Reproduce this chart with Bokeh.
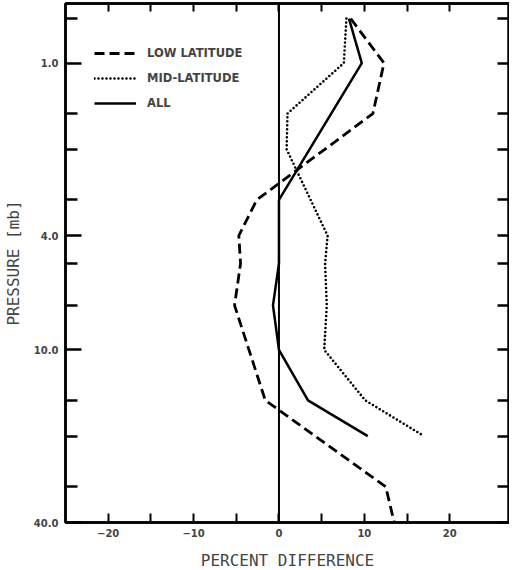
from bokeh.plotting import figure
from bokeh.models import (Range1d, LinearAxis, LogAxis, FixedTicker, Span, Legend,
                          LegendItem, CustomJSTickFormatter)
from bokeh.embed import file_html
from bokeh.resources import INLINE

# ---- data (pressure levels in mb, percent difference) ----
low_p = [0.7, 1.0, 1.5, 3.0, 4.0, 5.0, 7.0, 15.0, 30.0, 40.0]
low_x = [8.4, 12.3, 11.0, -2.6, -4.7, -4.5, -5.2, -1.6, 12.5, 13.5]

mid_p = [0.7, 1.0, 1.5, 2.0, 4.0, 5.0, 7.0, 10.0, 15.0, 20.0]
mid_x = [7.9, 7.6, 1.0, 0.9, 5.7, 5.4, 5.6, 5.3, 10.1, 17.0]

all_p = [0.7, 1.0, 3.0, 4.0, 5.0, 7.0, 10.0, 15.0, 20.0]
all_x = [8.2, 9.7, 0.0, 0.0, 0.0, -0.7, 0.0, 3.4, 10.4]

series_names = ["LOW LATITUDE", "MID-LATITUDE", "ALL"]

y_major = [1.0, 4.0, 10.0, 40.0]
y_minor = [0.7, 1.5, 2.0, 3.0, 5.0, 7.0, 15.0, 20.0, 30.0]
x_major = [-20, -10, 0, 10, 20]
x_minor = [-15, -5, 5, 15]

FW, FH = 444, 519

p = figure(frame_width=FW, frame_height=FH,
           x_range=Range1d(-25, 27), y_range=Range1d(40, 0.62),
           y_axis_type="log", output_backend="svg", toolbar_location=None,
           min_border_left=58, min_border_right=0, min_border_top=3,
           min_border_bottom=0)
p.grid.visible = False
p.outline_line_color = "black"
p.outline_line_width = 2.5
p.background_fill_color = "white"
p.border_fill_color = "white"

tick_font = "DejaVu Sans"
label_font = "DejaVu Sans Mono"

# left axis
ya = p.yaxis[0]
ya.ticker = FixedTicker(ticks=y_major, minor_ticks=y_minor)
ya.formatter = CustomJSTickFormatter(code="return tick.toFixed(1)")
ya.major_tick_in = 16
ya.major_tick_out = 0
ya.minor_tick_in = 12
ya.minor_tick_out = 0
ya.major_tick_line_width = 2.5
ya.minor_tick_line_width = 2.5
ya.axis_line_width = 2.5
ya.major_label_standoff = 7
ya.major_label_text_font = tick_font
ya.major_label_text_font_style = "bold"
ya.major_label_text_font_size = "10px"
ya.axis_label = "PRESSURE [mb]"
ya.axis_label_text_font = label_font
ya.axis_label_text_font_style = "normal"
ya.axis_label_text_font_size = "16px"
ya.axis_label_standoff = 8

# bottom axis
xa = p.xaxis[0]
xa.ticker = FixedTicker(ticks=x_major, minor_ticks=x_minor)
xa.major_tick_in = 9
xa.major_tick_out = 0
xa.minor_tick_in = 9
xa.minor_tick_out = 0
xa.major_tick_line_width = 2
xa.minor_tick_line_width = 2
xa.axis_line_width = 2.5
xa.major_label_standoff = 6
xa.major_label_text_font = tick_font
xa.major_label_text_font_style = "bold"
xa.major_label_text_font_size = "10px"
xa.axis_label = "PERCENT DIFFERENCE"
xa.axis_label_text_font = label_font
xa.axis_label_text_font_style = "normal"
xa.axis_label_text_font_size = "16px"
xa.axis_label_standoff = 11

blank = CustomJSTickFormatter(code="return ''")

ra = LogAxis(ticker=FixedTicker(ticks=y_major, minor_ticks=y_minor), formatter=blank,
             major_tick_in=12, major_tick_out=0, minor_tick_in=12, minor_tick_out=0,
             major_tick_line_width=2.5, minor_tick_line_width=2.5,
             axis_line_width=2.5, major_label_standoff=0)
p.add_layout(ra, "right")

ta = LinearAxis(ticker=FixedTicker(ticks=x_major, minor_ticks=x_minor), formatter=blank,
                major_tick_in=8, major_tick_out=0, minor_tick_in=8, minor_tick_out=0,
                major_tick_line_width=2, minor_tick_line_width=2,
                axis_line_width=2.5, major_label_standoff=0)
p.add_layout(ta, "above")

p.add_layout(Span(location=0, dimension="height", line_color="black", line_width=2))

r_low = p.line(low_x, low_p, line_color="black", line_width=2.8, line_dash="10 5")
r_mid = p.line(mid_x, mid_p, line_color="black", line_width=2.6, line_dash="0 4",
               line_cap="round")
r_all = p.line(all_x, all_p, line_color="black", line_width=2.5)

legend = Legend(items=[LegendItem(label=series_names[0], renderers=[r_low]),
                       LegendItem(label=series_names[1], renderers=[r_mid]),
                       LegendItem(label=series_names[2], renderers=[r_all])],
                location=(29, FH - 110), margin=0, padding=0, spacing=5,
                glyph_width=42, glyph_height=20, label_height=20, label_standoff=11,
                border_line_alpha=0, background_fill_alpha=0,
                label_text_font=tick_font, label_text_font_style="bold",
                label_text_font_size="11.5px")
p.add_layout(legend)

open("out.html", "w").write(file_html(p, INLINE))
